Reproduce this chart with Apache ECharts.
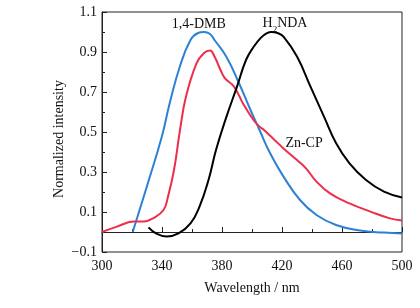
<!DOCTYPE html>
<html>
<head>
<meta charset="utf-8">
<script src="https://cdn.jsdelivr.net/npm/echarts@6/dist/echarts.min.js"></script>
<style>html,body{margin:0;padding:0;background:#fff;}#c{width:420px;height:308px;}</style>
</head>
<body>
<div id="c"></div>
<script>
// Wavelength (nm) and normalized intensity for each spectrum
var dmbX = [320.5, 330, 340, 345, 352, 359, 364, 368, 372, 375, 383, 391, 399, 405, 412, 421, 432, 443, 456, 472, 488, 500];
var dmbY = [0.00, 0.23, 0.48, 0.64, 0.83, 0.96, 0.995, 1.0, 0.99, 0.96, 0.875, 0.75, 0.61, 0.51, 0.395, 0.277, 0.16, 0.085, 0.035, 0.007, -0.003, -0.007];

var zncpX = [300, 310, 321, 328, 334, 341, 344, 348, 352, 356, 363, 368, 372, 375, 379, 382, 388, 394, 401, 405, 408, 414, 421, 430, 436, 443, 452, 465, 479, 492, 500];
var zncpY = [0.00, 0.027, 0.052, 0.053, 0.068, 0.11, 0.177, 0.31, 0.51, 0.677, 0.843, 0.895, 0.907, 0.877, 0.81, 0.768, 0.727, 0.643, 0.56, 0.527, 0.51, 0.468, 0.418, 0.36, 0.318, 0.252, 0.193, 0.143, 0.102, 0.068, 0.057];

var ndaX = [331, 336, 343, 351, 359, 365, 371, 376, 383, 390, 396, 401, 406, 410, 413, 417, 421, 430, 439, 448, 456, 465, 476, 488, 500];
var ndaY = [0.023, -0.007, -0.023, -0.007, 0.043, 0.127, 0.26, 0.41, 0.577, 0.727, 0.86, 0.925, 0.972, 0.994, 1.0, 0.995, 0.977, 0.877, 0.727, 0.577, 0.445, 0.343, 0.26, 0.202, 0.173];

var xTicks = [300, 340, 380, 420, 460, 500];
var yTicks = [-0.1, 0.1, 0.3, 0.5, 0.7, 0.9, 1.1];

var seriesNames = ['1,4-DMB', 'Zn-CP', 'H2NDA'];
var labelPos = { dmb: [364.5, 1.04], zncp: [434.7, 0.445], nda: [422, 1.05] };

function pairs(xs, ys) { return xs.map(function (x, i) { return [x, ys[i]]; }); }

var serif = 'Liberation Serif, Times New Roman, serif';
var axisColor = '#222';
var chart = echarts.init(document.getElementById('c'), null, { renderer: 'canvas' });

function mp(pos, text, rich) {
  return {
    symbol: 'rect', symbolSize: 1, silent: true,
    itemStyle: { color: 'rgba(0,0,0,0)' },
    label: { show: true, position: 'inside', formatter: text, color: '#111', fontFamily: serif, fontSize: 14, rich: rich || {} },
    data: [{ coord: pos, value: 0 }]
  };
}

chart.setOption({
  animation: false,
  backgroundColor: '#fff',
  grid: { left: 102, right: 18, top: 12, bottom: 56, show: true, borderColor: axisColor, borderWidth: 1 },
  xAxis: {
    type: 'value', min: xTicks[0], max: xTicks[xTicks.length - 1], interval: 40,
    name: 'Wavelength / nm', nameLocation: 'middle', nameGap: 29,
    nameTextStyle: { fontFamily: serif, fontSize: 14, color: '#111' },
    axisLine: { lineStyle: { color: axisColor, width: 1 } },
    axisTick: { inside: true, length: 5, lineStyle: { color: axisColor } },
    minorTick: { show: true, splitNumber: 2, length: 3, lineStyle: { color: axisColor } },
    axisLabel: { fontFamily: serif, fontSize: 14, color: '#111', margin: 7 },
    splitLine: { show: false }
  },
  yAxis: {
    type: 'value', min: yTicks[0], max: yTicks[yTicks.length - 1], interval: 0.2,
    name: 'Normalized intensity', nameLocation: 'middle', nameGap: 36, nameMoveOverlap: false,
    nameTextStyle: { fontFamily: serif, fontSize: 14, color: '#111', padding: [0, 14, 0, 0] },
    axisLine: { show: true, lineStyle: { color: axisColor, width: 1 } },
    axisTick: { show: true, inside: true, length: 5, lineStyle: { color: axisColor } },
    minorTick: { show: true, splitNumber: 2, length: 3, lineStyle: { color: axisColor } },
    axisLabel: {
      fontFamily: serif, fontSize: 14, color: '#111', margin: 5,
      formatter: function (v) { return v.toFixed(1).replace('-', '\u2212'); }
    },
    splitLine: { show: false }
  },
  series: [
    {
      name: seriesNames[0], type: 'line', data: pairs(dmbX, dmbY), smooth: 0.45, showSymbol: false,
      lineStyle: { color: '#2b82d3', width: 2 }, itemStyle: { color: '#2b82d3' },
      markPoint: mp(labelPos.dmb, '1,4-DMB')
    },
    {
      name: seriesNames[1], type: 'line', data: pairs(zncpX, zncpY), smooth: 0.45, showSymbol: false,
      lineStyle: { color: '#ee2d4a', width: 2 }, itemStyle: { color: '#ee2d4a' },
      markPoint: mp(labelPos.zncp, 'Zn-CP')
    },
    {
      name: seriesNames[2], type: 'line', data: pairs(ndaX, ndaY), smooth: 0.45, showSymbol: false,
      lineStyle: { color: '#000', width: 2 }, itemStyle: { color: '#000' },
      markPoint: mp(labelPos.nda, '{a|H}{s|2}{a|NDA}', {
        a: { fontFamily: serif, fontSize: 14, color: '#111', lineHeight: 16, verticalAlign: 'bottom' },
        s: { fontFamily: serif, fontSize: 9, color: '#111', lineHeight: 16, verticalAlign: 'bottom', padding: [0, 0, -4, 0] }
      })
    }
  ]
});
</script>
</body>
</html>
